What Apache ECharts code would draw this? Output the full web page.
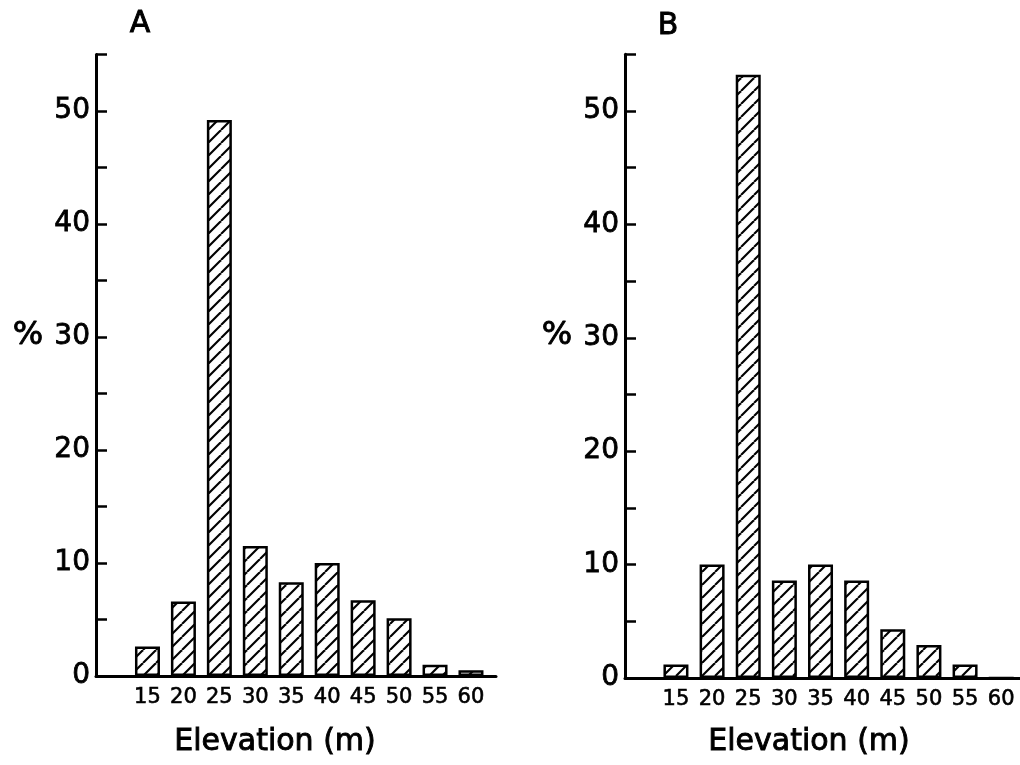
<!DOCTYPE html>
<html><head><meta charset="utf-8">
<script src="https://cdn.jsdelivr.net/npm/echarts@6/dist/echarts.min.js"></script>
<style>html,body{margin:0;padding:0;background:#fff}#chart{width:1020px;height:765px}</style>
</head><body><div id="chart"></div>
<script>
const elevations = [15, 20, 25, 30, 35, 40, 45, 50, 55, 60];
const percentA = [2.6, 6.6, 49.2, 11.5, 8.3, 10.0, 6.7, 5.1, 1.0, 0.5];
const percentB = [1.2, 10.0, 53.2, 8.6, 10.0, 8.6, 4.3, 2.9, 1.2, 0];
const panelTitles = ['A', 'B'];
const yName = '%';
const xName = 'Elevation (m)';

const FONT = 'DejaVu Sans';

function hatch() {
  const s = 13;
  const c = document.createElement('canvas');
  c.width = s; c.height = s;
  const g = c.getContext('2d');
  g.fillStyle = '#fff';
  g.fillRect(0, 0, s, s);
  g.strokeStyle = '#000';
  g.lineWidth = 2.1;
  for (let k = -1; k <= 1; k++) {
    g.beginPath();
    g.moveTo(k * s, s);
    g.lineTo(k * s + s, 0);
    g.stroke();
  }
  return c;
}
const pattern = { image: hatch(), repeat: 'repeat' };

function xAxis(idx, min, max) {
  return {
    gridIndex: idx, type: 'value', min: min, max: max,
    splitLine: { show: false },
    axisTick: { show: false },
    axisLine: { show: true, onZero: false, lineStyle: { color: '#000', width: 3 } },
    axisLabel: { customValues: elevations, color: '#000', fontSize: 21, fontFamily: FONT, margin: 11, hideOverlap: false,
      textBorderColor: '#000', textBorderWidth: 0.6 }
  };
}
function yAxis(idx) {
  return {
    gridIndex: idx, type: 'value', min: 0, max: 55, interval: 5,
    splitLine: { show: false },
    axisLine: { show: true, lineStyle: { color: '#000', width: 3 } },
    axisTick: { show: true, inside: true, length: 11, lineStyle: { color: '#000', width: 2.5 } },
    axisLabel: {
      color: '#000', fontSize: 28, fontFamily: FONT, margin: 6,
      textBorderColor: '#000', textBorderWidth: 0.8,
      formatter: v => (v % 10 === 0 ? String(v) : '')
    }
  };
}
function barSeries(idx, vals) {
  return {
    type: 'bar', xAxisIndex: idx, yAxisIndex: idx,
    data: elevations.map((e, i) => [e, vals[i]]),
    barWidth: 25,
    itemStyle: { color: pattern, borderColor: '#000', borderWidth: 2.5 },
    silent: true
  };
}
function txt(x, y, t, size) {
  return { type: 'text', x: x, y: y, style: { text: t, fill: '#000', stroke: '#000', lineWidth: 0.9,
    font: size + 'px "' + FONT + '"', align: 'center', verticalAlign: 'middle' } };
}

const chart = echarts.init(document.getElementById('chart'), null, { renderer: 'canvas' });
chart.setOption({
  backgroundColor: '#fff',
  animation: false,
  grid: [
    { left: 96, top: 54.5, width: 400, height: 621.5 },
    { left: 625, top: 54.3, width: 395, height: 623.7 }
  ],
  xAxis: [xAxis(0, 7.84, 63.48), xAxis(1, 7.95, 62.6)],
  yAxis: [yAxis(0), yAxis(1)],
  series: [barSeries(0, percentA), barSeries(1, percentB)],
  graphic: [
    txt(140, 24, panelTitles[0], 30),
    txt(668, 26, panelTitles[1], 30),
    txt(28, 336, yName, 32),
    txt(557, 336, yName, 32),
    txt(275, 742, xName, 30),
    txt(809, 742, xName, 30)
  ]
});
</script></body></html>
